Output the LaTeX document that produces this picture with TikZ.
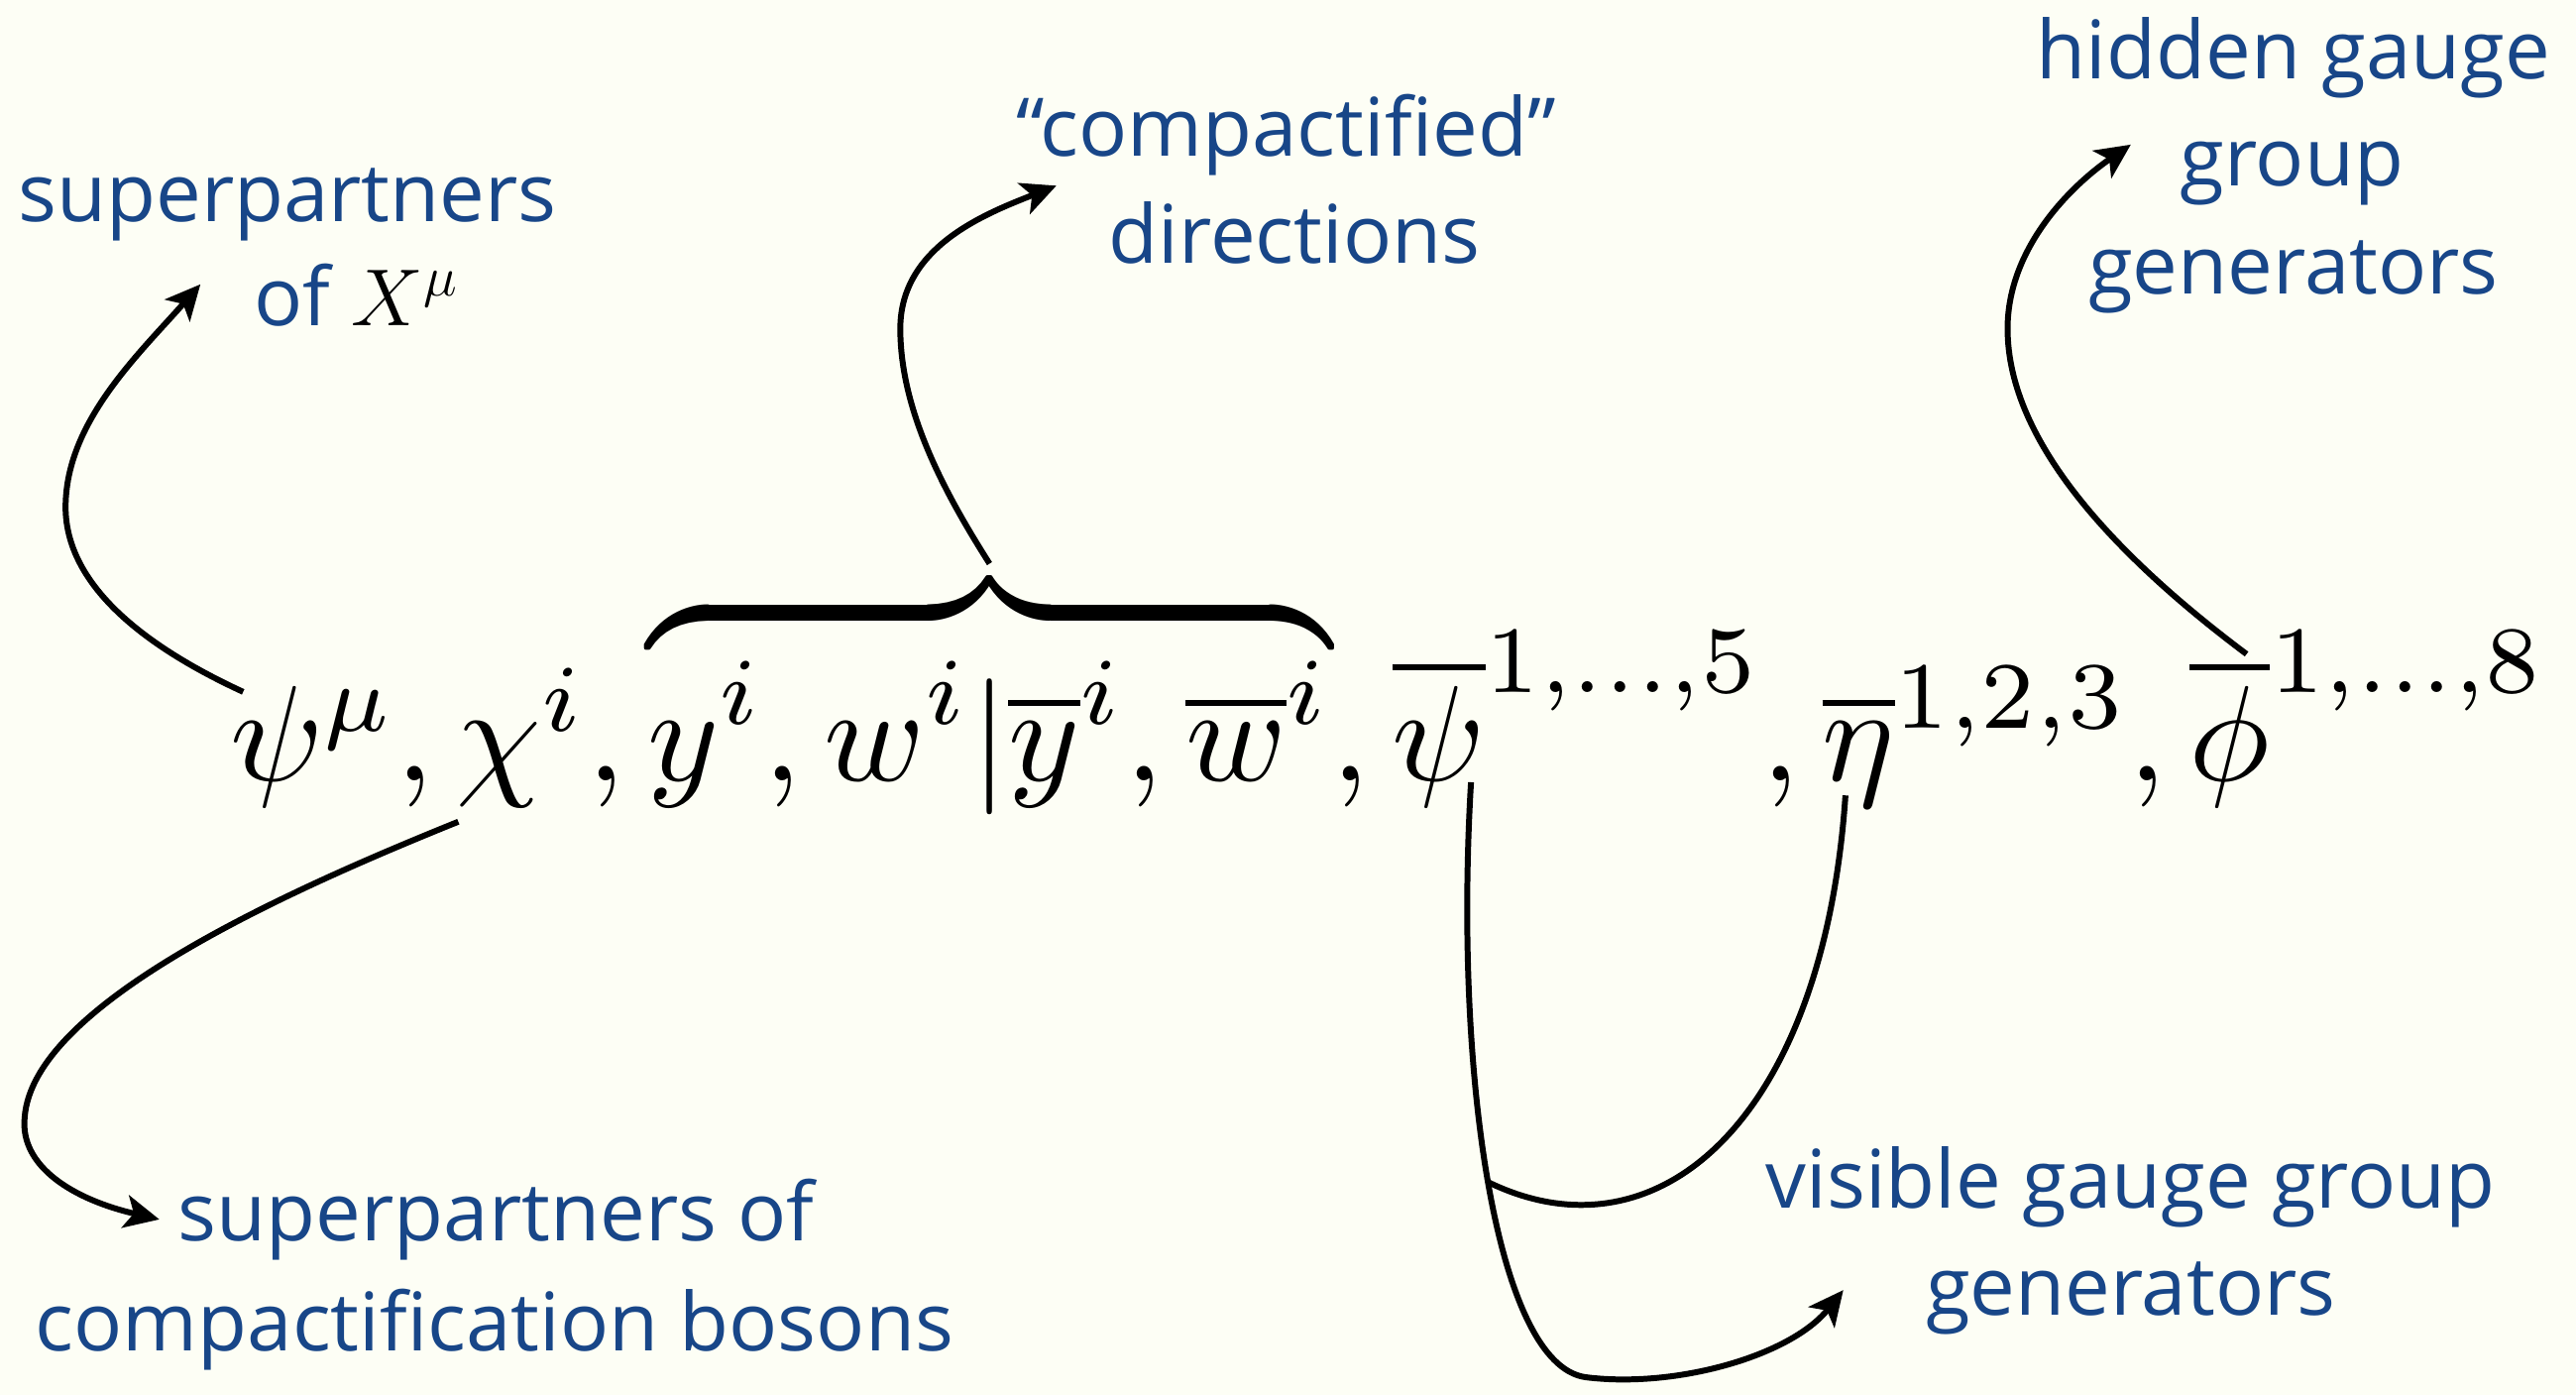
\RequirePackage{fix-cm}
\documentclass[tikz,border=0pt]{standalone}
\usepackage{amsmath}
\usepackage[no-math]{fontspec}
\newfontfamily\lblfont{Open Sans}
\usetikzlibrary{arrows.meta,calc}
\definecolor{gblue}{RGB}{24,70,136}
\definecolor{bgcream}{RGB}{253,254,245}
\tikzset{
  fml/.style={inner sep=0pt, outer sep=0pt, font=\fontsize{10}{12}\selectfont, scale=3.9, transform shape, anchor=base west},
  lbl/.style={inner sep=0pt, outer sep=0pt, text=gblue, font=\lblfont\fontsize{23.2}{28}\selectfont, anchor=base},
  conn/.style={line width=1.7pt, draw=black},
  arr/.style={conn, -{Stealth[length=10pt,width=9.5pt,inset=2.5pt]}},
}
\begin{document}
\begin{tikzpicture}[x=0.016575cm, y=-0.016575cm]
\fill[bgcream] (0,0) rectangle (1568,849);
\useasboundingbox (0,0) rectangle (1568,849);

% formula
\node[fml] (psi) at (140,475) {$\psi^{\mu}$};
\node[fml] (c1) at (psi.base east) {$,\,$};
\node[fml] (chi) at (c1.base east) {$\chi^{i}$};
\node[fml] (c2) at (chi.base east) {$,\,$};
\node[fml] (brc) at (c2.base east) {$\overbrace{y^{i}, w^{i} | \overline{y}^{i}, \overline{w}^{i}}$};
\node[fml] (c3) at (brc.base east) {$,\,$};
\node[fml] (psib) at (c3.base east) {$\overline{\psi}^{1,\dots,5}$};
\node[fml] (c4) at (psib.base east) {$,\,$};
\node[fml] (etab) at (c4.base east) {$\overline{\eta}^{1,2,3}$};
\node[fml] (c5) at (etab.base east) {$,\,$};
\node[fml] (phib) at (c5.base east) {$\overline{\phi}^{1,\dots,8}$};

% labels
\node[lbl] (L1a) at (175,135) {superpartners};
\node[lbl] (L1b) at (217,198) {of \textcolor{black}{$X^{\mu}$}};
\node[lbl] (L2a) at (783,95) {“compactified”};
\node[lbl] (L2b) at (788,160) {directions};
\node[lbl] (L3a) at (1396,48) {hidden gauge};
\node[lbl] (L3b) at (1395,113) {group};
\node[lbl] (L3c) at (1396,179) {generators};
\node[lbl] (L4a) at (1297,735) {visible gauge group};
\node[lbl] (L4b) at (1297,800) {generators};
\node[lbl] (L5a) at (302,755) {superpartners of};
\node[lbl] (L5b) at (301,822) {compactification bosons};

% connector end points
\coordinate (sA) at ($(psi.base west)+(8,-54)$);
\coordinate (tipA) at (122,173);
\coordinate (tipB) at (643,113);
\coordinate (sC) at ($(phib.base west)+(35,-77)$);
\coordinate (tipC) at (1297,88);
\coordinate (sD) at ($(chi.base west)+(1,25)$);
\coordinate (tipD) at (97,742);
\coordinate (sE) at ($(psib.base west)+(48,1)$);
\coordinate (tipE) at (1122,785);
\coordinate (sF) at ($(etab.base west)+(14,9)$);

\draw[arr] (sA) .. controls (70,385) and (38,345) .. (40,305) .. controls (42,255) and (85,215) .. (tipA);
\draw[arr] (brc.north) .. controls (575,300) and (548,250) .. (548,200) .. controls (548,150) and (600,130) .. (tipB);
\draw[arr] (sC) .. controls (1290,340) and (1222,270) .. (1222,200) .. controls (1222,150) and (1262,112) .. (tipC);
\draw[arr] (sD) .. controls (180,540) and (20,610) .. (15,680) .. controls (12,710) and (45,730) .. (tipD);
\draw[arr] (sE) .. controls (885,650) and (910,830) .. coordinate[pos=0.5] (jF) (965,838) .. controls (1020,845) and (1090,825) .. (tipE);
\draw[conn] (sF) .. controls (1110,680) and (1010,770) .. (jF);
\end{tikzpicture}
\end{document}
